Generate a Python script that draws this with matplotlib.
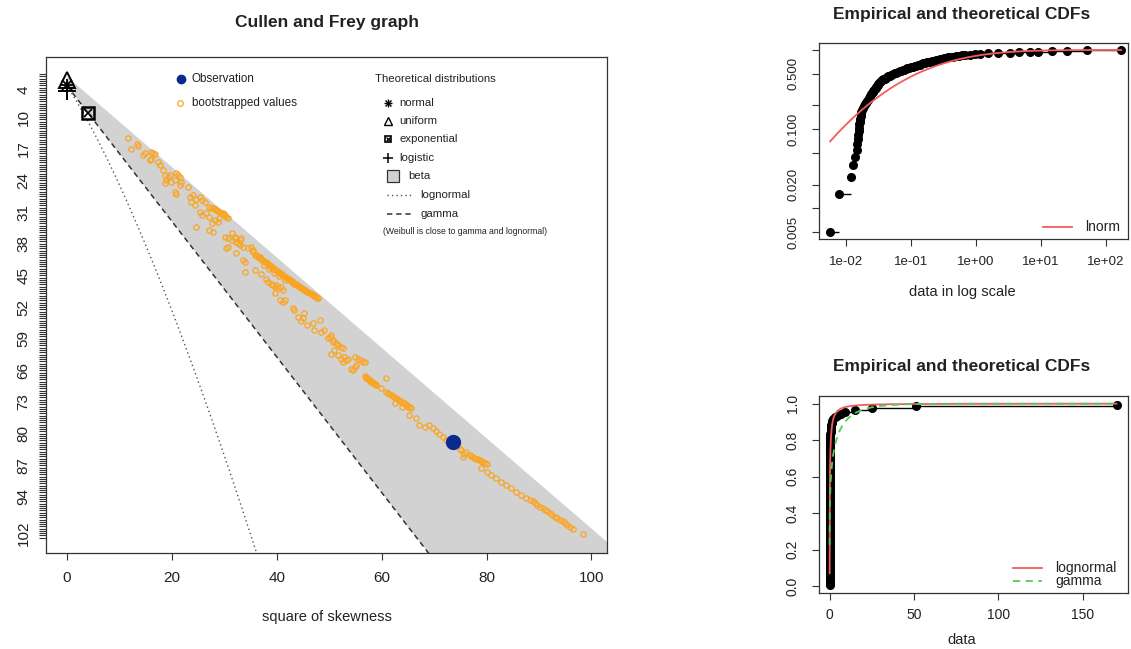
import math

import matplotlib
matplotlib.use("Agg")
import matplotlib.pyplot as plt
import numpy as np

plt.rcParams['font.family'] = ['Liberation Sans', 'DejaVu Sans']

W, H = 1131, 649

# ===================== Cullen and Frey graph data =====================
obs_skew2 = [73.7]
obs_kurt = [81.9]

# bootstrapped values (square of skewness, kurtosis)
boot_values = [
    (11.7, 14.7), (13.3, 15.9), (13.6, 16.3), (12.3, 17.1), (14.5, 18.4), (14.9, 18.0),
    (16.1, 17.7), (16.4, 17.9), (16.8, 18.2), (15.8, 19.5), (16.1, 19.3), (17.4, 19.9),
    (17.7, 20.6), (18.3, 21.7), (18.7, 22.8), (19.3, 23.2), (19.6, 22.8), (19.0, 23.9),
    (19.9, 24.3), (18.7, 24.6), (20.9, 22.4), (21.2, 22.8), (21.5, 23.2), (20.6, 23.9),
    (21.8, 24.3), (21.5, 25.0), (20.6, 26.5), (20.9, 27.0), (23.1, 25.4), (23.4, 27.6),
    (24.1, 27.2), (24.7, 28.0), (25.3, 27.6), (25.7, 28.3), (26.3, 28.7), (23.7, 28.7),
    (24.4, 29.4), (27.2, 29.8), (27.5, 30.0), (27.9, 30.2), (28.2, 30.3), (28.5, 30.5),
    (28.8, 30.7), (29.1, 30.9), (29.4, 31.1), (29.8, 31.3), (30.0, 31.5), (30.1, 31.6),
    (30.4, 32.0), (30.7, 32.4), (25.3, 30.9),
    (25.7, 31.7), (26.6, 31.3), (27.2, 32.0), (28.2, 32.8), (28.8, 33.1), (29.1, 32.4),
    (27.6, 33.5), (24.7, 34.2), (27.2, 35.0), (27.9, 35.3), (30.1, 36.5), (30.7, 36.8),
    (31.4, 37.2), (32.0, 36.5), (32.3, 37.6), (33.0, 38.3), (33.6, 38.7), (34.5, 39.0),
    (35.2, 38.7), (35.5, 39.4), (30.4, 39.0), (30.7, 38.7), (32.3, 40.1), (36.1, 40.5),
    (36.8, 40.9), (31.4, 35.7), (32.0, 36.8), (32.6, 37.9), (33.0, 37.2), (33.3, 36.8),
    (33.6, 41.6), (33.9, 42.0), (33.9, 44.2), (35.5, 39.8),
    # dense upper streak
    (35.8, 40.4), (36.0, 40.55), (36.2, 40.7), (36.4, 40.85), (36.6, 41.0), (36.8, 41.2),
    (37.0, 41.4), (37.15, 41.55), (37.3, 41.7), (37.5, 41.85), (37.7, 42.0), (37.9, 42.15),
    (38.1, 42.3), (38.3, 42.5), (38.5, 42.7), (38.7, 42.85), (38.9, 43.0), (39.05, 43.15),
    (39.2, 43.3), (39.4, 43.5), (39.6, 43.7), (39.8, 43.85), (40.0, 44.0), (40.2, 44.15),
    (40.4, 44.3), (40.6, 44.45), (40.8, 44.6), (40.95, 44.8), (41.1, 45.0), (41.3, 45.15),
    (41.5, 45.3), (41.7, 45.45), (41.9, 45.6), (42.1, 45.75), (42.3, 45.9), (42.5, 46.05),
    (42.7, 46.2), (42.85, 46.35), (43.0, 46.5), (43.2, 46.65), (43.4, 46.8), (43.6, 46.95),
    (43.8, 47.1), (44.0, 47.25), (44.2, 47.4), (44.4, 47.55), (44.6, 47.7), (44.8, 47.85),
    (45.0, 48.0), (45.2, 48.15), (45.4, 48.3), (45.6, 48.45), (45.8, 48.6), (46.05, 48.75),
    (46.3, 48.9), (46.5, 49.05), (46.7, 49.2), (46.9, 49.35), (47.1, 49.5), (47.3, 49.65),
    (47.5, 49.8), (47.7, 49.95), (47.9, 50.1),
    (37.5, 42.6), (38.5, 43.5), (39.5, 44.4), (40.5, 45.2), (41.5, 46.1),
    # scattered points below the streak
    (35.8, 43.8), (37.1, 44.6), (38.0, 45.7), (38.3, 46.4), (39.0, 46.8), (39.3, 47.1),
    (39.6, 47.5), (39.9, 47.1), (40.2, 47.9), (40.9, 47.5), (41.2, 48.2), (39.6, 49.0),
    (40.6, 50.5), (41.2, 50.8), (41.5, 50.5), (43.1, 52.3), (43.4, 52.7), (44.1, 54.2),
    (44.7, 55.0), (45.0, 54.5), (45.3, 53.4), (45.7, 56.0), (46.9, 55.6), (47.2, 57.1),
    (48.2, 54.9), (48.5, 57.5), (49.1, 57.1), (49.8, 58.9), (50.1, 58.6), (50.7, 59.3),
    (50.4, 58.2), (50.7, 59.7), (51.4, 60.0), (51.7, 60.4), (52.3, 60.8), (52.6, 61.1),
    (50.4, 62.3), (51.0, 61.5), (51.7, 62.6), (52.3, 63.4), (52.9, 63.0), (52.6, 64.1),
    (53.3, 63.7), (53.6, 63.4), (54.2, 65.6), (54.5, 65.9), (54.9, 65.2), (55.2, 64.8),
    (54.9, 63.0), (55.5, 63.4), (56.1, 63.7), (56.4, 64.1), (56.8, 64.1),
    (56.8, 67.3), (56.95, 67.45), (57.1, 67.6), (57.25, 67.75), (57.4, 67.9), (57.55, 68.05),
    (57.7, 68.2), (57.85, 68.35), (58.0, 68.5), (58.2, 68.65), (58.4, 68.8), (58.55, 68.9),
    (58.7, 69.0), (58.85, 69.15), (59.0, 69.3), (60.9, 67.8), (59.9, 70.0),
    (60.9, 70.7), (61.2, 70.95), (61.5, 71.2), (61.8, 71.45), (62.1, 71.7), (62.4, 71.9),
    (62.7, 72.1), (63.0, 72.35), (63.3, 72.6), (63.6, 72.85), (63.9, 73.1), (64.2, 73.3),
    (64.5, 73.5), (64.8, 73.75), (65.1, 74.0), (65.4, 74.2), (65.7, 74.4),
    (62.5, 73.3), (63.8, 74.1), (65.3, 75.9),
    (66.6, 76.6), (67.2, 78.1), (68.2, 78.5), (69.1, 78.1), (69.8, 78.8), (70.4, 79.4),
    (71.0, 80.0), (71.7, 80.7), (72.3, 81.4), (73.0, 81.6), (74.9, 83.3), (75.2, 83.6),
    (75.5, 85.1), (75.8, 84.4), (76.1, 84.0),
    (76.8, 84.8), (77.1, 85.0), (77.4, 85.2), (77.7, 85.35), (78.0, 85.5), (78.35, 85.7),
    (78.7, 85.9), (79.0, 86.1), (79.3, 86.3), (79.65, 86.5), (80.0, 86.7),
    (79.0, 87.7), (80.0, 88.4), (80.9, 89.2), (81.9, 89.9), (82.8, 90.7), (83.8, 91.4),
    (84.7, 92.1), (85.7, 92.8), (86.6, 93.6), (87.6, 94.3),
    (88.35, 94.65), (88.8, 95.0), (89.25, 95.4), (89.7, 95.8), (90.2, 96.15), (90.7, 96.5),
    (91.15, 96.85), (91.6, 97.2), (92.05, 97.6), (92.5, 98.0), (93.0, 98.35), (93.5, 98.7),
    (94.0, 99.0), (94.5, 99.3), (94.95, 99.7), (95.4, 100.1), (95.9, 100.55), (96.4, 101.0),
    (98.3, 102.3),
]
boot_skew2 = [p[0] for p in boot_values]
boot_kurt = [p[1] for p in boot_values]

# theoretical distributions (square of skewness, kurtosis)
normal_pt = (0, 3.0)
uniform_pt = (0, 1.8)
logistic_pt = (0, 4.2)
exponential_pt = (4, 9.0)

kurt_ticks = [4, 10, 17, 24, 31, 38, 45, 52, 59, 66, 73, 80, 87, 94, 102]
skew_ticks = [0, 20, 40, 60, 80, 100]

# ===================== CDF data =====================
data_values = [
    0.0057, 0.0078, 0.0118, 0.0127, 0.0136, 0.0146,
    0.0150, 0.0152, 0.0154, 0.0156, 0.0158, 0.0160, 0.0163,
    0.0166, 0.0168, 0.0170, 0.0172, 0.0175,
    0.0182, 0.0189, 0.0196,
    0.0203, 0.0210, 0.0217, 0.0224, 0.0231, 0.0238, 0.0245,
    0.0252, 0.0258, 0.0265, 0.0272, 0.0279, 0.0286, 0.0293, 0.0300, 0.0307, 0.0314,
    0.0325, 0.0337, 0.0350, 0.0363, 0.0377, 0.0392, 0.0407, 0.0423,
    0.0445, 0.0470, 0.0497, 0.0527, 0.0560, 0.0596, 0.0635,
    0.0668, 0.0704, 0.0743, 0.0785, 0.0830, 0.0878, 0.093, 0.0985, 0.106, 0.115,
    0.121, 0.128, 0.136, 0.145, 0.154, 0.164, 0.174, 0.185, 0.196, 0.208,
    0.223, 0.240, 0.258, 0.277, 0.298, 0.322, 0.348, 0.376,
    0.41, 0.45, 0.50, 0.55, 0.61, 0.677,
    0.80, 0.95, 1.15, 1.55, 2.2, 3.3, 4.6, 6.8, 8.9, 14.8, 25.0, 51.0, 170.0,
]

# fitted parameters (estimated from the curves)
meanlog, sdlog = -2.10, 2.08
gamma_shape, gamma_rate = 0.20, 0.0667

log_ticks_y = [0.005, 0.01, 0.02, 0.05, 0.1, 0.2, 0.5, 1.0]
log_labels_y = ["0.005", "", "0.020", "", "0.100", "", "0.500", ""]
log_ticks_x = [1e-2, 1e-1, 1e0, 1e1, 1e2]
log_labels_x = ["1e-02", "1e-01", "1e+00", "1e+01", "1e+02"]
lin_ticks_x = [0, 50, 100, 150]
lin_ticks_y = [0.0, 0.2, 0.4, 0.6, 0.8, 1.0]


def lnorm_cdf(x):
    return np.array([0.5 * (1 + math.erf((math.log(v) - meanlog) / (sdlog * math.sqrt(2)))) for v in x])


def gamma_cdf(x):
    # regularized lower incomplete gamma, series form
    out = []
    for v in x:
        z = v * gamma_rate
        term = 1.0 / gamma_shape
        total = term
        n = 1
        while term > 1e-12 * total and n < 500:
            term *= z / (gamma_shape + n)
            total += term
            n += 1
        out.append(math.exp(gamma_shape * math.log(z) - z - math.lgamma(gamma_shape)) * total)
    return np.array(out)


TXT = '#222222'
ORANGE = '#FAA523'
BLUE = '#0b2a8f'
RED = '#F25C5C'
GREEN = '#55CC55'


def style_box(ax):
    for sp in ax.spines.values():
        sp.set_color('#333333')
        sp.set_linewidth(0.9)


fig = plt.figure(figsize=(W / 100, H / 100), dpi=100)

# ----------------------- Cullen and Frey -----------------------
ax = fig.add_axes([46 / W, 1 - 553 / H, 561 / W, 496 / H])
s_line = np.array([0.0, 150.0])
upper = 1 + s_line
lower = 3 + 1.5 * s_line
ax.fill(np.r_[s_line, s_line[::-1]], np.r_[upper, lower[::-1]], color='#D2D2D2', lw=0, zorder=1)
ax.plot(s_line, lower, color='#333333', lw=1.1, dashes=(3.5, 2.5), zorder=2)

# lognormal line, parametrised by w = exp(sigma^2)
w = np.exp(np.linspace(0, 1.2, 400))
ax.plot((w + 2) ** 2 * (w - 1), w ** 4 + 2 * w ** 3 + 3 * w ** 2 - 3,
        color='#555555', lw=1.0, dashes=(1, 2.2), zorder=2)

ax.plot(boot_skew2, boot_kurt, 'o', mfc='none', mec=ORANGE, ms=3.8, mew=0.9, zorder=3)
ax.plot(obs_skew2, obs_kurt, 'o', color=BLUE, ms=10, zorder=4)

ax.plot(*uniform_pt, '^', mfc='none', mec='black', ms=11, mew=1.4, zorder=5, clip_on=False)
ax.plot(*normal_pt, '+', color='black', ms=9, mew=1.3, zorder=5, clip_on=False)
ax.plot(*normal_pt, 'x', color='black', ms=7, mew=1.3, zorder=5, clip_on=False)
ax.plot(*logistic_pt, '+', color='black', ms=13, mew=1.4, zorder=5, clip_on=False)
ax.plot(*exponential_pt, 's', mfc='none', mec='black', ms=9, mew=1.8, zorder=5)
ax.plot(*exponential_pt, 'x', color='black', ms=6, mew=1.2, zorder=5)

ax.set_xlim(-3.96, 102.96)
ax.set_ylim(106.4, -3.3)
ax.set_xticks(skew_ticks)
ax.set_yticks(kurt_ticks)
ax.set_yticklabels([str(v) for v in kurt_ticks], rotation=90, va='center')
ax.set_yticks(np.arange(0.5, 103.01, 0.5), minor=True)
ax.tick_params(axis='both', which='both', direction='out', length=5, width=0.8,
               colors='#333333', labelcolor=TXT, labelsize=11)
ax.tick_params(axis='x', pad=8)
ax.tick_params(axis='y', pad=6)
style_box(ax)

# ----------------------- CDF, log scale -----------------------
data = np.array(data_values)
n = len(data)
probs = (np.arange(1, n + 1) - 0.5) / n

ax2 = fig.add_axes([819 / W, 1 - 239 / H, 309 / W, 196 / H])
ax2.set_xscale('log')
ax2.set_yscale('log')
ax2.hlines(probs[:-1], data[:-1], data[1:], color='black', lw=1)
ax2.plot(data, probs, 'o', color='black', ms=5.5)
xg = np.logspace(np.log10(data.min()), np.log10(data.max()), 400)
ax2.plot(xg, lnorm_cdf(xg), color=RED, lw=1.3)
ax2.set_xlim(10 ** -2.415, 10 ** 2.338)
ax2.set_ylim(10 ** -2.386, 10 ** 0.088)
ax2.set_xticks(log_ticks_x)
ax2.set_xticklabels(log_labels_x)
ax2.set_yticks(log_ticks_y)
ax2.set_yticklabels(log_labels_y, rotation=90, va='center')
ax2.minorticks_off()
ax2.tick_params(axis='both', direction='out', length=5, width=0.8,
                colors='#333333', labelcolor=TXT, labelsize=9.5)
ax2.tick_params(axis='x', pad=7)
ax2.tick_params(axis='y', pad=9)
style_box(ax2)

# ----------------------- CDF, linear scale -----------------------
ax3 = fig.add_axes([819 / W, 1 - 593 / H, 309 / W, 197 / H])
ax3.hlines(probs[:-1], data[:-1], data[1:], color='black', lw=1)
ax3.plot(data, probs, 'o', color='black', ms=5.5)
xl = np.linspace(data.min(), data.max(), 3000)
ax3.plot(xl, lnorm_cdf(xl), color=RED, lw=1.3)
ax3.plot(xl, gamma_cdf(xl), color=GREEN, lw=1.3, dashes=(4, 3))
ax3.set_xlim(-6.3, 176.8)
ax3.set_ylim(-0.038, 1.042)
ax3.set_xticks(lin_ticks_x)
ax3.set_yticks(lin_ticks_y)
ax3.set_yticklabels([f"{v:.1f}" for v in lin_ticks_y], rotation=90, va='center')
ax3.tick_params(axis='both', direction='out', length=5, width=0.8,
                colors='#333333', labelcolor=TXT, labelsize=10)
ax3.tick_params(axis='x', pad=6)
ax3.tick_params(axis='y', pad=9)
style_box(ax3)

# ----------------------- overlay for titles and legends (pixel coords) -----------------------
ov = fig.add_axes([0, 0, 1, 1])
ov.set_xlim(0, W)
ov.set_ylim(H, 0)
ov.axis('off')

ov.text(327, 22, "Cullen and Frey graph", ha='center', va='center', fontsize=12.5, fontweight='bold', color=TXT)
ov.text(327, 617, "square of skewness", ha='center', va='center', fontsize=10.5, color=TXT)
ov.text(962, 14, "Empirical and theoretical CDFs", ha='center', va='center', fontsize=12.5, fontweight='bold', color=TXT)
ov.text(962, 292, "data in log scale", ha='center', va='center', fontsize=10.5, color=TXT)
ov.text(962, 367, "Empirical and theoretical CDFs", ha='center', va='center', fontsize=12.5, fontweight='bold', color=TXT)
ov.text(962, 640, "data", ha='center', va='center', fontsize=10.5, color=TXT)

# Cullen and Frey legends
ov.plot(180.7, 79.3, 'o', color=BLUE, ms=6)
ov.text(191.7, 79.3, "Observation", va='center', fontsize=8.4, color=TXT)
ov.plot(180, 102.7, 'o', mfc='none', mec=ORANGE, ms=4, mew=0.9)
ov.text(191.7, 102.7, "bootstrapped values", va='center', fontsize=8.4, color=TXT)

ov.text(375, 79.3, "Theoretical distributions", va='center', fontsize=8.2, color=TXT)
lx, tx = 388.3, 399.3
ov.plot(lx, 102.7, '+', color='black', ms=5.5, mew=1.0)
ov.plot(lx, 102.7, 'x', color='black', ms=4.2, mew=1.0)
ov.text(tx, 102.7, "normal", va='center', fontsize=8.2, color=TXT)
ov.plot(lx, 120.5, '^', mfc='none', mec='black', ms=5.5, mew=1.0)
ov.text(tx, 121, "uniform", va='center', fontsize=8.2, color=TXT)
ov.plot(lx, 139.3, 's', mfc='none', mec='black', ms=5, mew=1.2)
ov.plot(lx, 139.3, 'x', color='black', ms=3.5, mew=0.9)
ov.text(tx, 139.3, "exponential", va='center', fontsize=8.2, color=TXT)
ov.plot(lx, 157.7, '+', color='black', ms=7.5, mew=1.1)
ov.text(tx, 157.7, "logistic", va='center', fontsize=8.2, color=TXT)
ov.plot(393.3, 176, 's', color='#D2D2D2', mec='#333333', ms=8, mew=0.9)
ov.text(408.3, 176, "beta", va='center', fontsize=8.2, color=TXT)
ov.plot([387, 411], [195, 195], color='#555555', lw=1.0, dashes=(1, 2.2))
ov.text(420.7, 195, "lognormal", va='center', fontsize=8.2, color=TXT)
ov.plot([387, 411], [213.7, 213.7], color='#333333', lw=1.1, dashes=(3.5, 2.5))
ov.text(420.7, 213.7, "gamma", va='center', fontsize=8.2, color=TXT)
ov.text(383, 232, "(Weibull is close to gamma and lognormal)", va='center', fontsize=6.2, color=TXT)

# CDF legends
ov.plot([1043, 1072], [227, 227], color=RED, lw=1.3)
ov.text(1085, 227, "lnorm", va='center', fontsize=10, color=TXT)
ov.plot([1013, 1042], [568.3, 568.3], color=RED, lw=1.3)
ov.text(1055, 568.3, "lognormal", va='center', fontsize=10, color=TXT)
ov.plot([1013, 1042], [580.5, 580.5], color=GREEN, lw=1.3, dashes=(4, 3))
ov.text(1055, 580.5, "gamma", va='center', fontsize=10, color=TXT)

fig.savefig("out.png", dpi=100)
